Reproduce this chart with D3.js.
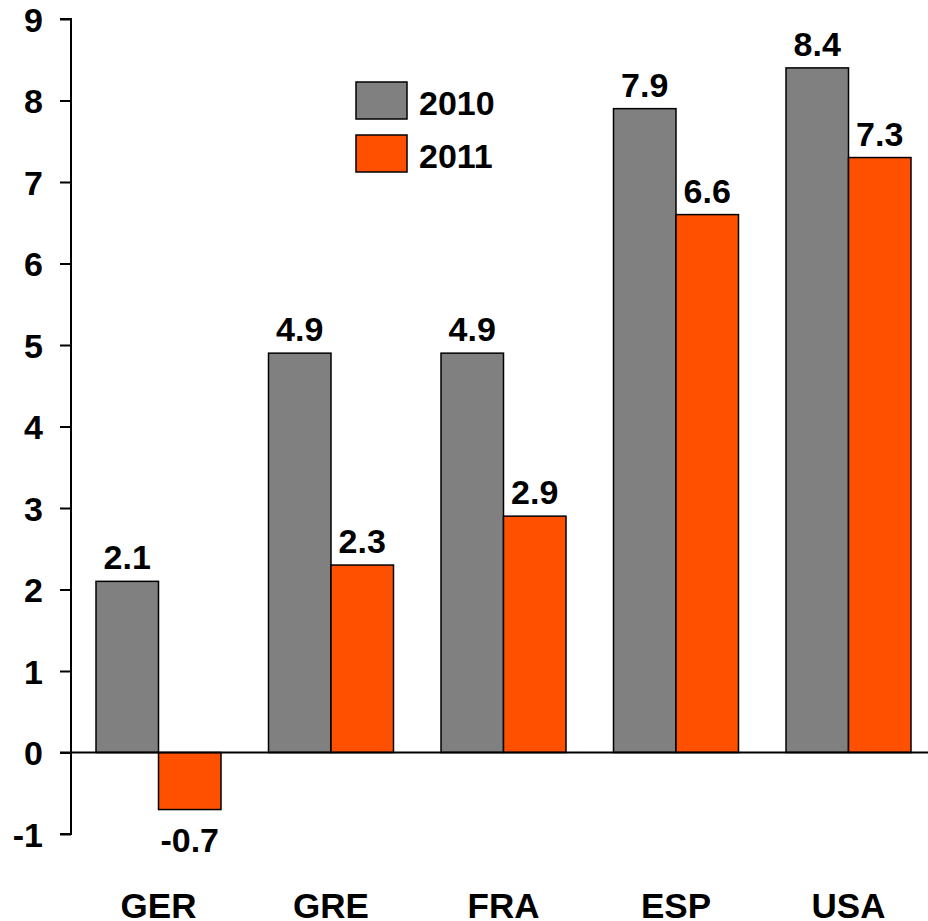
<!DOCTYPE html>
<html>
<head>
<meta charset="utf-8">
<script src="https://cdn.jsdelivr.net/npm/d3@7"></script>
<style>
  html, body { margin: 0; padding: 0; background: #fff; }
  svg { display: block; }
  text { font-family: "Liberation Sans", Arial, sans-serif; font-weight: bold; fill: #000; }
</style>
</head>
<body>
<script>
// Country groups and the two yearly series
const countries = ["GER", "GRE", "FRA", "ESP", "USA"];
const seriesNames = ["2010", "2011"];
const values2010 = [2.1, 4.9, 4.9, 7.9, 8.4];
const values2011 = [-0.7, 2.3, 2.9, 6.6, 7.3];
const yTicks = [-1, 0, 1, 2, 3, 4, 5, 6, 7, 8, 9];
const seriesColors = ["#808080", "#FF5000"];

const width = 928, height = 921;
const svg = d3.select("body").append("svg")
  .attr("width", width).attr("height", height);

// Plain hyphen-minus for negative numbers
const fmtLocale = d3.formatLocale({ decimal: ".", thousands: ",", grouping: [3], currency: ["", ""], minus: "-" });
const fmtValue = fmtLocale.format(".1f");
const fmtTick = fmtLocale.format("d");

const y = d3.scaleLinear().domain([-1, 9]).range([834, 19]);
const x0 = d3.scaleBand().domain(countries).range([72.25, 934.75])
  .paddingInner(0.2754).paddingOuter(0.1377);
const x1 = d3.scaleBand().domain(seriesNames).range([0, x0.bandwidth()]);

const rows = countries.map((c, i) => ({
  country: c,
  vals: [
    { key: seriesNames[0], v: values2010[i], color: seriesColors[0] },
    { key: seriesNames[1], v: values2011[i], color: seriesColors[1] }
  ]
}));

// Bars
const groups = svg.append("g").selectAll("g").data(rows).join("g")
  .attr("transform", d => `translate(${x0(d.country)},0)`);

groups.selectAll("rect").data(d => d.vals).join("rect")
  .attr("x", d => x1(d.key))
  .attr("width", x1.bandwidth())
  .attr("y", d => y(Math.max(0, d.v)))
  .attr("height", d => Math.abs(y(d.v) - y(0)))
  .attr("fill", d => d.color)
  .attr("stroke", "#000")
  .attr("stroke-width", 1.5);

// Value labels
groups.selectAll("text").data(d => d.vals).join("text")
  .attr("x", d => x1(d.key) + x1.bandwidth() / 2)
  .attr("y", d => d.v >= 0 ? y(d.v) - 12 : y(d.v) + 42)
  .attr("text-anchor", "middle")
  .attr("font-size", 34)
  .text(d => fmtValue(d.v));

// Y axis
const yAxis = d3.axisLeft(y).tickValues(yTicks).tickSize(11).tickPadding(17)
  .tickFormat(fmtTick);
const gy = svg.append("g").attr("transform", "translate(71,0)").call(yAxis);
gy.select(".domain").attr("stroke", "#000").attr("stroke-width", 2)
  .attr("d", `M-11,${y(9)}H0V${y(-1)}H-11`);
gy.selectAll(".tick line").attr("stroke", "#000").attr("stroke-width", 2);
gy.selectAll(".tick text")
  .attr("font-size", 34)
  .attr("font-family", "'Liberation Sans', Arial, sans-serif")
  .attr("font-weight", "bold")
  .attr("fill", "#000")
  .attr("dy", "0.36em");

// Zero baseline
svg.append("line")
  .attr("x1", 60).attr("x2", width)
  .attr("y1", y(0)).attr("y2", y(0))
  .attr("stroke", "#000").attr("stroke-width", 2);

// Category labels
svg.append("g").selectAll("text").data(countries).join("text")
  .attr("x", d => x0(d) + x0.bandwidth() / 2)
  .attr("y", 918)
  .attr("text-anchor", "middle")
  .attr("font-size", 35)
  .text(d => d);

// Legend
const legend = svg.append("g").selectAll("g").data(seriesNames).join("g")
  .attr("transform", (d, i) => `translate(356,${82 + i * 53})`);
legend.append("rect")
  .attr("width", 51).attr("height", 37)
  .attr("fill", (d, i) => seriesColors[i])
  .attr("stroke", "#000").attr("stroke-width", 1.5);
legend.append("text")
  .attr("x", 63).attr("y", 33)
  .attr("font-size", 34)
  .text(d => d);
</script>
</body>
</html>
